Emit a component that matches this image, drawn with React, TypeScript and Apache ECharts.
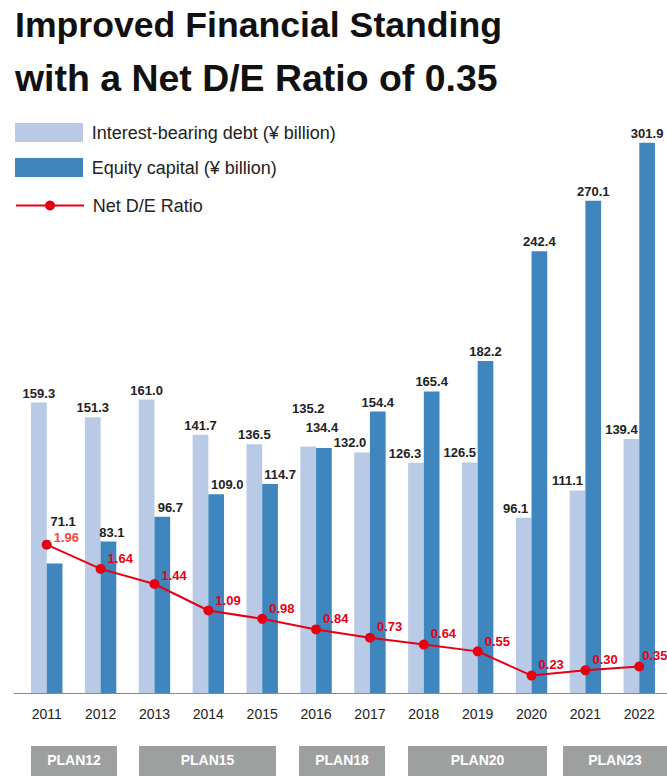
import React, { useEffect, useRef } from "react";
import * as echarts from "echarts";

const FONT = '"Liberation Sans", Arial, Helvetica, sans-serif';

// ---- data ----
const years = ["2011", "2012", "2013", "2014", "2015", "2016", "2017", "2018", "2019", "2020", "2021", "2022"];
const debt = [159.3, 151.3, 161.0, 141.7, 136.5, 135.2, 132.0, 126.3, 126.5, 96.1, 111.1, 139.4];
const equity = [71.1, 83.1, 96.7, 109.0, 114.7, 134.4, 154.4, 165.4, 182.2, 242.4, 270.1, 301.9];
const deRatio = [1.96, 1.64, 1.44, 1.09, 0.98, 0.84, 0.73, 0.64, 0.55, 0.23, 0.3, 0.35];
const plans = ["PLAN12", "PLAN15", "PLAN18", "PLAN20", "PLAN23"];
const seriesNames = ["Interest-bearing debt (¥ billion)", "Equity capital (¥ billion)", "Net D/E Ratio"];
const titleLines = ["Improved Financial Standing", "with a Net D/E Ratio of 0.35"];

// ---- layout (label nudges, decorations) ----
const debtLabelOffset = [[0, 0], [0, 0], [0, 0], [0, 0], [0, 0], [0, -28.7], [-12, 0], [-11, 0], [-10, 0], [-8, 0], [-10, 0], [-10, 0]];
const equityLabelOffset = [[8.6, -32], [3.5, 0], [8, 0], [11, 0], [10, 0], [-2, -11], [0, 0], [0, 0], [0, 0], [0, 0], [0, 0], [0, 0]];
const ratioLabelOffset = [[0, -7.4], [0, -10.7], [0, -9], [0, -10], [0, -10.8], [0, -11.3], [0, -11.3], [0, -10.6], [0, -9.4], [0, -11.4], [0, -11], [-4, -10.7]];
const planBoxes = [[31, 117], [139, 276], [299, 385], [408, 547], [563, 667]];

const LIGHT = "#b9cae6";
const DARK = "#3f86bf";
const RED = "#e60012";

export default function App() {
  const ref = useRef<HTMLDivElement>(null);
  useEffect(() => {
    document.body.style.margin = "0";
    const chart = echarts.init(ref.current!, null, { renderer: "svg" });

    const barLabel = {
      show: true,
      position: "top",
      distance: 3,
      color: "#222",
      fontSize: 13,
      fontWeight: "bold",
      fontFamily: FONT,
      formatter: (p: any) => Number(p.value).toFixed(1),
    };

    const graphic: any[] = [];
    titleLines.forEach((t, i) => {
      graphic.push({
        type: "text",
        x: 15,
        y: i === 0 ? 25 : 79,
        scaleX: i === 0 ? 0.99 : 1.04,
        style: {
          text: t,
          x: 0,
          y: 0,
          fill: "#111",
          fontSize: 36,
          fontWeight: "bold",
          fontFamily: FONT,
          verticalAlign: "middle",
          align: "left",
        },
      });
    });
    graphic.push({
      type: "line",
      shape: { x1: 14, y1: 693.5, x2: 667, y2: 693.5 },
      style: { stroke: "#8a8a8a", lineWidth: 1.2 },
      z: 10,
    });
    plans.forEach((p, i) => {
      const [x0, x1] = planBoxes[i];
      graphic.push({
        type: "rect",
        shape: { x: x0, y: 746, width: x1 - x0, height: 30 },
        style: { fill: "#9e9f9f" },
      });
      graphic.push({
        type: "text",
        x: (x0 + x1) / 2,
        y: 760,
        style: {
          text: p,
          fill: "#fff",
          fontSize: 14,
          fontWeight: "bold",
          fontFamily: FONT,
          align: "center",
          verticalAlign: "middle",
        },
      });
    });

    const option: any = {
      animation: false,
      textStyle: { fontFamily: FONT },
      grid: { left: 19.8, right: 0.8, top: 55, bottom: 83, containLabel: false, outerBoundsMode: "none" },
      legend: [
        {
          data: [seriesNames[0], seriesNames[1]],
          orient: "vertical",
          left: 15,
          top: 123,
          padding: 0,
          itemWidth: 68,
          itemHeight: 19,
          itemGap: 16,
          icon: "rect",
          selectedMode: false,
          textStyle: { fontSize: 18, color: "#222", fontFamily: FONT, padding: [0, 0, 0, 3.7] },
        },
        {
          data: [seriesNames[2]],
          orient: "vertical",
          left: 15,
          top: 196.5,
          padding: 0,
          itemWidth: 68,
          itemHeight: 12.5,
          selectedMode: false,
          textStyle: { fontSize: 18, color: "#222", fontFamily: FONT, padding: [0, 0, 0, 3.7] },
        },
      ],
      xAxis: {
        type: "category",
        data: years,
        axisLine: { show: false },
        axisTick: { show: false },
        axisLabel: { interval: 0, margin: 14, fontSize: 14, color: "#222", fontFamily: FONT },
      },
      yAxis: [
        { type: "value", min: 0, max: 350, show: false, splitLine: { show: false } },
        { type: "value", min: 0, max: 8.43, show: false, splitLine: { show: false } },
      ],
      series: [
        {
          name: seriesNames[0],
          type: "bar",
          barWidth: 15.7,
          barGap: "0%",
          itemStyle: { color: LIGHT },
          label: barLabel,
          data: debt.map((v, i) => ({ value: v, label: { offset: debtLabelOffset[i] } })),
        },
        {
          name: seriesNames[1],
          type: "bar",
          barWidth: 15.7,
          barGap: "0%",
          itemStyle: { color: DARK },
          label: barLabel,
          data: equity.map((v, i) => ({ value: v, label: { offset: equityLabelOffset[i] } })),
        },
        {
          name: seriesNames[2],
          type: "line",
          yAxisIndex: 1,
          symbol: "circle",
          symbolSize: 10,
          z: 5,
          lineStyle: { color: RED, width: 2 },
          itemStyle: { color: RED },
          label: {
            show: true,
            position: "right",
            distance: 2,
            color: RED,
            fontSize: 13,
            fontWeight: "bold",
            fontFamily: FONT,
            formatter: (p: any) => Number(p.value).toFixed(2),
          },
          data: deRatio.map((v, i) => ({
            value: v,
            label: { offset: ratioLabelOffset[i], color: i === 0 ? "#ef4a3c" : RED },
          })),
        },
      ],
      graphic,
    };
    chart.setOption(option);
    return () => chart.dispose();
  }, []);

  return (
    <div
      ref={ref}
      style={{ position: "fixed", left: 0, top: 0, width: 667, height: 776, background: "#fff" }}
    />
  );
}
